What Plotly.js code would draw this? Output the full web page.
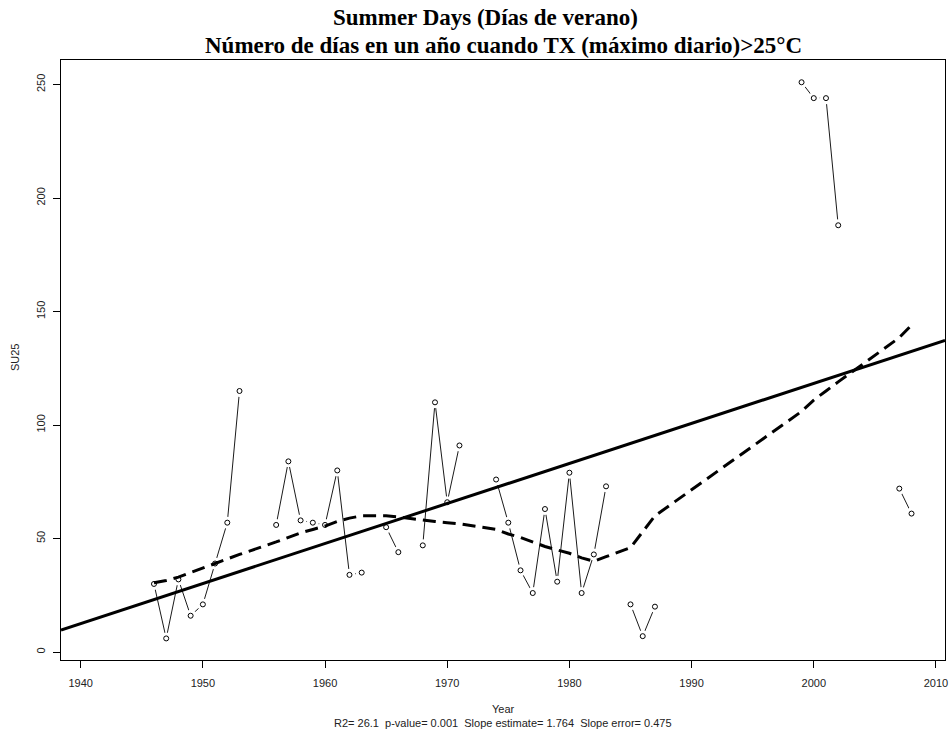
<!DOCTYPE html>
<html>
<head>
<meta charset="utf-8">
<script src="https://cdn.plot.ly/plotly-3.0.1.min.js"></script>
<style>html,body{margin:0;padding:0;background:#fff;}#chart{width:951px;height:736px;}</style>
</head>
<body>
<div id="chart"></div>
<script>
// Observed summer days (SU25) per year; null = missing year
const years = [1946,1947,1948,1949,1950,1951,1952,1953,1954,1955,1956,1957,1958,1959,1960,1961,1962,1963,1964,1965,1966,1967,1968,1969,1970,1971,1972,1973,1974,1975,1976,1977,1978,1979,1980,1981,1982,1983,1984,1985,1986,1987,1988,1989,1990,1991,1992,1993,1994,1995,1996,1997,1998,1999,2000,2001,2002,2003,2004,2005,2006,2007,2008];
const su25  = [30,6,32,16,21,39,57,115,null,null,56,84,58,57,56,80,34,35,null,55,44,null,47,110,66,91,null,null,76,57,36,26,63,31,79,26,43,73,null,21,7,20,null,null,null,null,null,null,null,null,null,null,null,251,244,244,188,null,null,null,null,72,61];

// Loess smooth evaluated at the observed years
const loessYears = [1946,1947,1948,1949,1950,1951,1952,1953,1956,1957,1958,1959,1960,1961,1962,1963,1965,1966,1968,1969,1970,1971,1974,1975,1976,1977,1978,1979,1980,1981,1982,1983,1985,1986,1987,1999,2000,2001,2002,2007,2008];
const loessVals  = [30.5,31.5,33,35,37,39,41,43,48.5,50.5,52.5,54,55.5,57.5,59,60,60,59.5,58,57.5,57,56.5,54,52,50.5,48.5,46.5,45,43.5,41.5,40,42,46,53,60,106,111,115,119,138.5,144];

// Linear trend (slope 1.764/yr) end points across the plot
const trendYears = [1938.39, 2010.74];
const trendVals  = [9.7, 137.3];

const xTicks = [1940,1950,1960,1970,1980,1990,2000,2010];
const yTicks = [0,50,100,150,200,250];

const titleLine1 = "<b>Summer Days (Días de verano)</b>";
const titleLine2 = "<b>Número de días en un año cuando TX (máximo diario)&gt;25°C</b>";
const statsText = "R2= 26.1  p-value= 0.001  Slope estimate= 1.764  Slope error= 0.475";

const tickFont = {family: "Liberation Sans, Arial, sans-serif", size: 11, color: "#222"};
const titleFont = {family: "Liberation Serif, Times New Roman, serif", size: 23, color: "#000"};

const traces = [
  {x: years, y: su25, type: "scatter", mode: "lines", connectgaps: false,
   line: {color: "#1a1a1a", width: 1}, hoverinfo: "skip", showlegend: false},
  {x: years, y: su25, type: "scatter", mode: "markers",
   marker: {symbol: "circle", size: 12, color: "#ffffff", line: {width: 0}}, hoverinfo: "skip", showlegend: false},
  {x: years, y: su25, type: "scatter", mode: "markers",
   marker: {symbol: "circle-open", size: 5, color: "#000", line: {width: 1, color: "#000"}}, showlegend: false},
  {x: trendYears, y: trendVals, type: "scatter", mode: "lines",
   line: {color: "#000", width: 3}, hoverinfo: "skip", showlegend: false},
  {x: loessYears, y: loessVals, type: "scatter", mode: "lines",
   line: {color: "#000", width: 3, dash: "13px,7px"}, hoverinfo: "skip", showlegend: false}
];

const layout = {
  width: 951, height: 736,
  margin: {l: 61, r: 6, t: 60, b: 76},
  paper_bgcolor: "#fff", plot_bgcolor: "#fff",
  showlegend: false,
  xaxis: {range: [1938.39, 2010.74], tickvals: xTicks, ticktext: xTicks.map(String),
          showgrid: false, zeroline: false, showline: true, mirror: true, linecolor: "#000", linewidth: 1,
          ticks: "outside", ticklen: 7, tickcolor: "#000", tickwidth: 1, tickfont: tickFont,
          ticklabelstandoff: 6},
  yaxis: {range: [-3.5, 260.8], tickvals: yTicks, ticktext: yTicks.map(String), tickangle: -90,
          showgrid: false, zeroline: false, showline: true, mirror: true, linecolor: "#000", linewidth: 1,
          ticks: "outside", ticklen: 7, tickcolor: "#000", tickwidth: 1, tickfont: tickFont,
          ticklabelstandoff: 4},
  annotations: [
    {text: titleLine1, xref: "paper", yref: "paper", x: 0.48, y: 1.07, xanchor: "center", yanchor: "middle",
     showarrow: false, font: titleFont},
    {text: titleLine2, xref: "paper", yref: "paper", x: 0.5, y: 1.025, xanchor: "center", yanchor: "middle",
     showarrow: false, font: titleFont},
    {text: "Year", xref: "paper", yref: "paper", x: 0.5, y: -0.0817, xanchor: "center", yanchor: "middle",
     showarrow: false, font: tickFont},
    {text: statsText, xref: "paper", yref: "paper", x: 0.5, y: -0.105, xanchor: "center", yanchor: "middle",
     showarrow: false, font: tickFont},
    {text: "SU25", xref: "paper", yref: "paper", x: -0.052, y: 0.505, xanchor: "center", yanchor: "middle",
     textangle: -90, showarrow: false, font: tickFont}
  ]
};

Plotly.newPlot("chart", traces, layout, {displayModeBar: false, staticPlot: true});
</script>
</body>
</html>
